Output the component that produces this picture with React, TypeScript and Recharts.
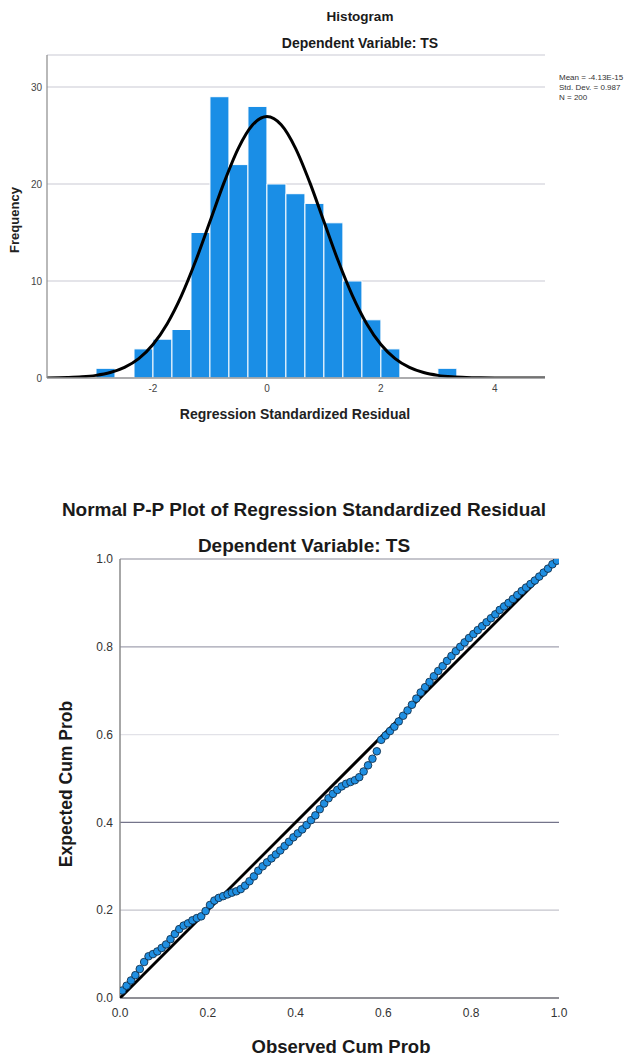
import React from 'react';
import {
  ComposedChart,
  Line,
  XAxis,
  YAxis,
  CartesianGrid,
  ScatterChart,
  Scatter,
  ReferenceLine,
  ReferenceArea,
} from 'recharts';

// ---------- Histogram data ----------
const binStarts = [
  -3, -2.667, -2.333, -2, -1.667, -1.333, -1, -0.667, -0.333, 0,
  0.333, 0.667, 1, 1.333, 1.667, 2, 2.333, 2.667, 3,
];
const binEnds = [
  -2.667, -2.333, -2, -1.667, -1.333, -1, -0.667, -0.333, 0, 0.333,
  0.667, 1, 1.333, 1.667, 2, 2.333, 2.667, 3, 3.333,
];
const binCounts = [1, 0, 3, 4, 5, 15, 29, 22, 28, 20, 19, 18, 16, 10, 6, 3, 0, 0, 1];

const curveX = [
  -3.86, -3.5, -3.25, -3, -2.75, -2.5, -2.25, -2, -1.75, -1.5, -1.25, -1, -0.75, -0.5, -0.25,
  0, 0.25, 0.5, 0.75, 1, 1.25, 1.5, 1.75, 2, 2.25, 2.5, 2.75, 3, 3.25, 3.5, 3.75, 4, 4.5, 4.88,
];
const curveY = [
  0.01, 0.05, 0.12, 0.27, 0.56, 1.09, 2.0, 3.46, 5.6, 8.49, 12.08, 16.13, 20.19, 23.7, 26.1,
  26.95, 26.1, 23.7, 20.19, 16.13, 12.08, 8.49, 5.6, 3.46, 2.0, 1.09, 0.56, 0.27, 0.12, 0.05, 0.02,
  0.007, 0.0006, 0,
];

const histXTicks = [-2, 0, 2, 4];
const histYTicks = [0, 10, 20, 30];
const histXDomain = [-3.86, 4.88];
const histYDomain = [0, 33.3];
const legendLines = ['Mean = -4.13E-15', 'Std. Dev. = 0.987', 'N = 200'];

// ---------- P-P plot data ----------
const observed = [
  0.005, 0.015, 0.025, 0.035, 0.045, 0.055, 0.065, 0.075, 0.085, 0.095,
  0.105, 0.115, 0.125, 0.135, 0.145, 0.155, 0.165, 0.175, 0.185, 0.195,
  0.205, 0.215, 0.225, 0.235, 0.245, 0.255, 0.265, 0.275, 0.285, 0.295,
  0.305, 0.315, 0.325, 0.335, 0.345, 0.355, 0.365, 0.375, 0.385, 0.395,
  0.405, 0.415, 0.425, 0.435, 0.445, 0.455, 0.465, 0.475, 0.485, 0.495,
  0.505, 0.515, 0.525, 0.535, 0.545, 0.555, 0.565, 0.575, 0.585, 0.595,
  0.605, 0.615, 0.625, 0.635, 0.645, 0.655, 0.665, 0.675, 0.685, 0.695,
  0.705, 0.715, 0.725, 0.735, 0.745, 0.755, 0.765, 0.775, 0.785, 0.795,
  0.805, 0.815, 0.825, 0.835, 0.845, 0.855, 0.865, 0.875, 0.885, 0.895,
  0.905, 0.915, 0.925, 0.935, 0.945, 0.955, 0.965, 0.975, 0.985, 0.995,
];
const expected = [
  0.017, 0.028, 0.040, 0.052, 0.066, 0.082, 0.095, 0.100, 0.106, 0.114,
  0.122, 0.134, 0.146, 0.157, 0.165, 0.170, 0.177, 0.182, 0.186, 0.198,
  0.212, 0.222, 0.228, 0.232, 0.236, 0.240, 0.243, 0.248, 0.256, 0.266,
  0.277, 0.290, 0.300, 0.309, 0.318, 0.327, 0.336, 0.346, 0.356, 0.366,
  0.375, 0.384, 0.394, 0.405, 0.416, 0.430, 0.443, 0.455, 0.465, 0.474,
  0.482, 0.488, 0.492, 0.496, 0.503, 0.516, 0.530, 0.545, 0.562, 0.588,
  0.598, 0.608, 0.618, 0.630, 0.643, 0.655, 0.668, 0.682, 0.696, 0.708,
  0.720, 0.733, 0.745, 0.756, 0.768, 0.779, 0.790, 0.800, 0.810, 0.820,
  0.829, 0.838, 0.847, 0.856, 0.865, 0.874, 0.884, 0.892, 0.900, 0.909,
  0.918, 0.927, 0.935, 0.943, 0.951, 0.960, 0.969, 0.978, 0.988, 0.996,
];
const diagX = [0, 1];
const diagY = [0, 1];
const ppTicks = [0, 0.2, 0.4, 0.6, 0.8, 1.0];
const ppGridValues = [0.2, 0.4, 0.6, 0.8, 1.0];
const ppGridColors = ['#c4c4cc', '#74748a', '#e2e2e8', '#a2a2b0', '#8c8c9a'];

const curveData = curveX.map((x, i) => ({ x, y: curveY[i] }));
const ppData = observed.map((x, i) => ({ x, y: expected[i] }));
const diagData = diagX.map((x, i) => ({ x, y: diagY[i] }));

const FONT = '"Liberation Sans", Arial, Helvetica, sans-serif';

const abs = (
  left: number,
  top: number,
  extra: React.CSSProperties = {}
): React.CSSProperties => ({
  position: 'absolute',
  left,
  top,
  transform: 'translate(-50%, -50%)',
  whiteSpace: 'nowrap',
  lineHeight: 1,
  ...extra,
});

const Dot = (props: any) => {
  const { cx, cy } = props;
  if (cx == null || cy == null) return null;
  return <circle cx={cx} cy={cy} r={3.8} fill="#1f8fe2" stroke="#12314d" strokeWidth={0.9} />;
};

const NoDot = () => null;

export default function App() {
  return (
    <div
      style={{
        position: 'absolute',
        left: 0,
        top: 0,
        width: 624,
        height: 1059,
        background: '#ffffff',
        fontFamily: FONT,
        overflow: 'hidden',
      }}
    >
      {/* Histogram */}
      <div style={{ position: 'absolute', left: 0, top: 0 }}>
        <ComposedChart
          width={624}
          height={430}
          data={curveData}
          margin={{ top: 55, right: 79, bottom: 22, left: 17 }}
        >
          <CartesianGrid vertical={false} stroke="#c9c9d3" strokeWidth={1.2} />
          <XAxis
            dataKey="x"
            type="number"
            domain={histXDomain}
            ticks={histXTicks}
            allowDataOverflow
            height={30}
            tickLine={false}
            tickSize={0}
            tickMargin={7}
            axisLine={{ stroke: '#9a9a9a', strokeWidth: 1.5 }}
            tick={{ fontSize: 10, fill: '#444', fontFamily: FONT }}
          />
          <YAxis
            type="number"
            domain={histYDomain}
            ticks={histYTicks}
            allowDataOverflow
            width={30}
            tickLine={false}
            tickSize={0}
            tickMargin={5}
            axisLine={{ stroke: '#8a8a8a', strokeWidth: 1.2 }}
            tick={{ fontSize: 10, fill: '#444', fontFamily: FONT }}
          />
          {binCounts.map((c, i) =>
            c > 0 ? (
              <ReferenceArea
                key={i}
                x1={binStarts[i]}
                x2={binEnds[i]}
                y1={0}
                y2={c}
                fill="#1a8ee6"
                fillOpacity={1}
                stroke="#ffffff"
                strokeWidth={1}
                ifOverflow="visible"
              />
            ) : null
          )}
          <Line
            dataKey="y"
            type="monotone"
            stroke="#000000"
            strokeWidth={3}
            dot={false}
            activeDot={false}
            isAnimationActive={false}
          />
        </ComposedChart>
      </div>

      <div style={abs(360, 17, { fontSize: 13.5, fontWeight: 'bold', color: '#1a1a1a' })}>Histogram</div>
      <div style={abs(360, 43, { fontSize: 14, fontWeight: 'bold', color: '#1a1a1a' })}>
        Dependent Variable: TS
      </div>
      <div style={{ position: 'absolute', left: 559, top: 73, fontSize: 8, lineHeight: '10px', color: '#333', whiteSpace: 'nowrap' }}>
        {legendLines.map((l) => (
          <div key={l}>{l}</div>
        ))}
      </div>
      <div style={abs(14, 220, { fontSize: 13, fontWeight: 'bold', color: '#222', transform: 'translate(-50%, -50%) rotate(-90deg)' })}>
        Frequency
      </div>
      <div style={abs(295, 414, { fontSize: 14, fontWeight: 'bold', color: '#222' })}>
        Regression Standardized Residual
      </div>

      {/* P-P plot */}
      <div style={{ position: 'absolute', left: 0, top: 480 }}>
        <ScatterChart width={624} height={579} margin={{ top: 79, right: 65, bottom: 31, left: 80 }}>
          <XAxis
            dataKey="x"
            type="number"
            domain={[0, 1]}
            ticks={ppTicks}
            allowDataOverflow
            height={30}
            tickLine={false}
            tickSize={0}
            tickMargin={10}
            tickFormatter={(v: number) => v.toFixed(1)}
            axisLine={{ stroke: '#6a6a72', strokeWidth: 1.5 }}
            tick={{ fontSize: 12, fill: '#333', fontFamily: FONT }}
          />
          <YAxis
            dataKey="y"
            type="number"
            domain={[0, 1]}
            ticks={ppTicks}
            allowDataOverflow
            width={40}
            tickLine={false}
            tickSize={0}
            tickMargin={7}
            tickFormatter={(v: number) => v.toFixed(1)}
            axisLine={{ stroke: '#8a8a8a', strokeWidth: 1.5 }}
            tick={{ fontSize: 12, fill: '#333', fontFamily: FONT }}
          />
          {ppGridValues.map((v, i) => (
            <ReferenceLine key={v} y={v} stroke={ppGridColors[i]} strokeWidth={1.2} />
          ))}
          <Scatter
            data={diagData}
            line={{ stroke: '#000000', strokeWidth: 3 }}
            shape={NoDot}
            isAnimationActive={false}
          />
          <Scatter data={ppData} shape={Dot} isAnimationActive={false} />
        </ScatterChart>
      </div>

      <div style={abs(304, 509, { fontSize: 19, fontWeight: 'bold', color: '#1a1a1a' })}>
        Normal P-P Plot of Regression Standardized Residual
      </div>
      <div style={abs(304, 545, { fontSize: 19, fontWeight: 'bold', color: '#1a1a1a' })}>
        Dependent Variable: TS
      </div>
      <div style={abs(67, 784, { fontSize: 17.5, fontWeight: 'bold', color: '#1a1a1a', transform: 'translate(-50%, -50%) rotate(-90deg)' })}>
        Expected Cum Prob
      </div>
      <div style={abs(341, 1047, { fontSize: 18.5, fontWeight: 'bold', color: '#1a1a1a' })}>
        Observed Cum Prob
      </div>
    </div>
  );
}
